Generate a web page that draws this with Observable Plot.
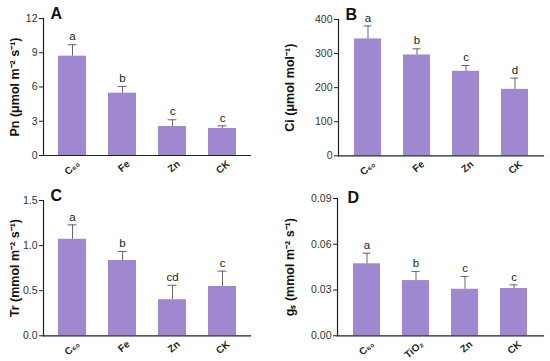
<!DOCTYPE html>
<html>
<head>
<meta charset="utf-8">
<script src="https://cdn.jsdelivr.net/npm/d3@7"></script>
<script src="https://cdn.jsdelivr.net/npm/@observablehq/plot@0.6"></script>
<style>
  body { margin: 0; background: #fff; }
  #root { position: relative; width: 550px; height: 361px; font-family: "Liberation Sans", Arial, sans-serif; }
  .panel { position: absolute; }
  .panel svg { font-family: "Liberation Sans", Arial, sans-serif; overflow: visible; }
  .panel g[aria-label="y-axis tick label"] text { font-size: 10.5px; fill: #333; }
  .panel g[aria-label="y-axis label"] text { font-weight: bold; font-size: 12.5px; fill: #111; }
</style>
</head>
<body>
<div id="root"></div>
<script>
// ---- data ----
const groupsABC = ["C₆₀", "Fe", "Zn", "CK"];
const groupsD = ["C₆₀", "TiO₂", "Zn", "CK"];

const pnMean = [8.7, 5.46, 2.54, 2.37];
const pnSd = [1.0, 0.58, 0.59, 0.23];
const pnLetters = ["a", "b", "c", "c"];
const pnTicks = [0, 3, 6, 9, 12];

const ciMean = [343, 296, 248, 195];
const ciSd = [38, 18, 17, 33];
const ciLetters = ["a", "b", "c", "d"];
const ciTicks = [0, 100, 200, 300, 400];

const trMean = [1.07, 0.835, 0.40, 0.547];
const trSd = [0.16, 0.10, 0.16, 0.17];
const trLetters = ["a", "b", "cd", "c"];
const trTicks = [0, 0.5, 1.0, 1.5];

const gsMean = [0.0472, 0.0362, 0.0305, 0.031];
const gsSd = [0.0069, 0.0059, 0.0084, 0.0024];
const gsLetters = ["a", "b", "c", "c"];
const gsTicks = [0, 0.03, 0.06, 0.09];

const BAR = "#a088d0";
const ERR = "#6a6278";
const FONT = "Liberation Sans, Arial, sans-serif";

function makePanel({groups, mean, sd, letters, ticks, fmt, label, tag, left, top, h, mL, mT, mB, mR, labelOffset, tagDx, tagDy}) {
  const data = groups.map((g, i) => ({g, v: mean[i], e: mean[i] + sd[i], l: letters[i]}));
  const W = 275;
  const plot = Plot.plot({
    width: W,
    height: h,
    marginLeft: mL, marginTop: mT, marginBottom: mB, marginRight: mR,
    x: {domain: groups, range: [mL + 4, W - mR - 3], paddingInner: 0.44, paddingOuter: 0.22, align: 0.5, axis: null},
    y: {domain: [ticks[0], ticks[ticks.length - 1]]},
    marks: [
      Plot.barY(data, {x: "g", y: "v", fill: BAR}),
      Plot.ruleX(data, {x: "g", y1: "v", y2: "e", stroke: ERR, strokeWidth: 1}),
      Plot.tickY(data, {x: "g", y: "e", stroke: ERR, strokeWidth: 1, insetLeft: 9.5, insetRight: 9.5}),
      Plot.text(data, {x: "g", y: "e", text: "l", dy: -8, fontSize: 11.5, fill: "#222", fontFamily: FONT}),
      Plot.frame({anchor: "left", stroke: "#222", strokeWidth: 1.2}),
      Plot.frame({anchor: "bottom", stroke: "#222", strokeWidth: 1.2}),
      Plot.axisY({ticks, tickFormat: fmt, tickSize: 4, tickPadding: 2, label, labelAnchor: "center", labelOffset, labelArrow: "none", stroke: "#222"}),
      Plot.text(data, {x: "g", frameAnchor: "bottom", text: "g", rotate: -40, textAnchor: "end", lineAnchor: "middle", dx: 6, dy: 7, fontSize: 10, fontWeight: "bold", fill: "#222", fontFamily: FONT}),
      Plot.text([tag], {frameAnchor: "top-left", text: d => d, dx: tagDx, dy: tagDy, textAnchor: "start", lineAnchor: "bottom", fontSize: 16, fontWeight: "bold", fill: "#111", fontFamily: FONT})
    ]
  });
  const div = document.createElement("div");
  div.className = "panel";
  div.style.left = left + "px";
  div.style.top = top + "px";
  div.appendChild(plot);
  document.getElementById("root").appendChild(div);
}

makePanel({groups: groupsABC, mean: pnMean, sd: pnSd, letters: pnLetters, ticks: pnTicks, fmt: d3.format("d"),
  label: "Pn (μmol m⁻² s⁻¹)", tag: "A", left: 0, top: 0, h: 180, mL: 43, mT: 18, mB: 25, mR: 25, labelOffset: 33, tagDx: 7, tagDy: 0});
makePanel({groups: groupsABC, mean: ciMean, sd: ciSd, letters: ciLetters, ticks: ciTicks, fmt: d3.format("d"),
  label: "Ci (μmol mol⁻¹)", tag: "B", left: 275, top: 0, h: 180, mL: 63, mT: 19, mB: 24.7, mR: 7, labelOffset: 53, tagDx: 7, tagDy: 0});
makePanel({groups: groupsABC, mean: trMean, sd: trSd, letters: trLetters, ticks: trTicks, fmt: d3.format(".1f"),
  label: "Tr (mmol m⁻² s⁻¹)", tag: "C", left: 0, top: 180, h: 181, mL: 43, mT: 20, mB: 25.7, mR: 25, labelOffset: 33, tagDx: 7, tagDy: 0});
makePanel({groups: groupsD, mean: gsMean, sd: gsSd, letters: gsLetters, ticks: gsTicks, fmt: d3.format(".2f"),
  label: "gₛ (mmol m⁻² s⁻¹)", tag: "D", left: 275, top: 180, h: 181, mL: 62, mT: 18, mB: 25.7, mR: 7, labelOffset: 52, tagDx: 10, tagDy: 4});
</script>
</body>
</html>
